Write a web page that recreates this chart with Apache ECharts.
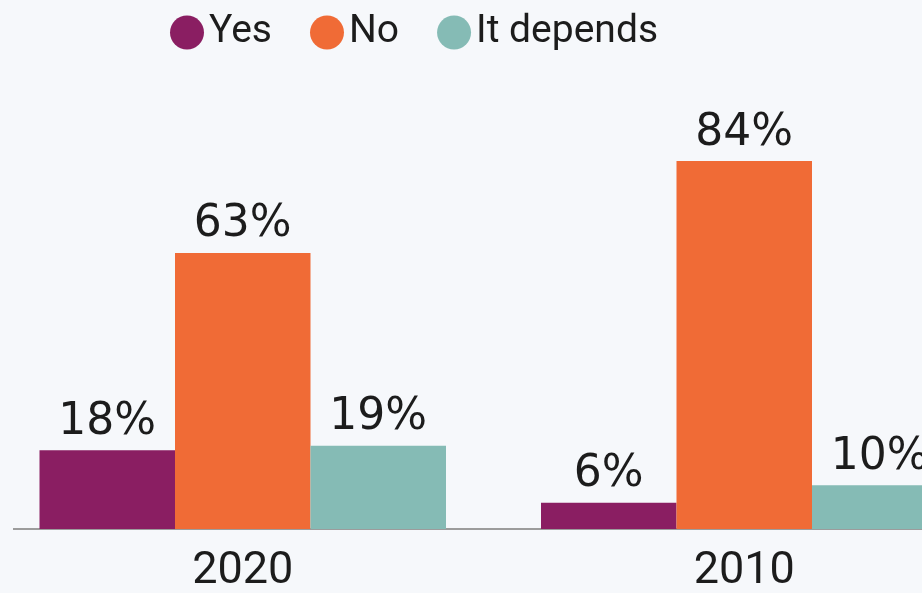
<!DOCTYPE html>
<html>
<head>
<meta charset="utf-8">
<script src="https://cdn.jsdelivr.net/npm/echarts@6/dist/echarts.min.js"></script>
<style>
  html, body { margin: 0; padding: 0; background: #f6f8fb; }
  #chart { width: 922px; height: 593px; }
</style>
</head>
<body>
<div id="chart"></div>
<script>
// Survey answers by year (percent of respondents)
const years = ['2020', '2010'];
const seriesNames = ['Yes', 'No', 'It depends'];
const yesValues = [18, 6];
const noValues = [63, 84];
const dependsValues = [19, 10];

const colors = ['#8a1e62', '#f06b36', '#85bbb5'];
const labelFont = 'DejaVu Sans, Noto Sans, sans-serif';
const textFont = 'Roboto, Noto Sans, sans-serif';

const chart = echarts.init(document.getElementById('chart'), null, { renderer: 'canvas' });

function barSeries(name, data, color) {
  return {
    name: name,
    type: 'bar',
    data: data,
    barWidth: 135.5,
    barGap: '0%',
    itemStyle: { color: color },
    label: {
      show: true,
      position: 'top',
      distance: 6,
      formatter: '{c}%',
      fontFamily: labelFont,
      fontSize: 44,
      color: '#1c1c1c'
    }
  };
}

chart.setOption({
  backgroundColor: '#f6f8fb',
  animation: false,
  color: colors,
  legend: {
    left: 165,
    top: 8,
    icon: 'circle',
    itemWidth: 34,
    itemHeight: 34,
    itemGap: 38,
    data: seriesNames,
    textStyle: {
      fontFamily: textFont,
      fontSize: 39,
      color: '#1c1c1c'
    }
  },
  // the plot runs past the right edge, so the grid is not clamped to the canvas
  grid: { left: -8, width: 1003, top: 91, bottom: 64, outerBoundsMode: 'none', containLabel: false },
  xAxis: {
    type: 'category',
    data: years,
    axisLine: { show: false },
    axisTick: { show: false },
    axisLabel: {
      margin: 20,
      fontFamily: textFont,
      fontSize: 45,
      color: '#1c1c1c'
    }
  },
  yAxis: {
    type: 'value',
    min: 0,
    max: 100,
    show: false,
    splitLine: { show: false }
  },
  series: [
    barSeries(seriesNames[0], yesValues, colors[0]),
    barSeries(seriesNames[1], noValues, colors[1]),
    barSeries(seriesNames[2], dependsValues, colors[2])
  ]
});

// Baseline rule drawn at the zero value of the axis
const baseY = chart.convertToPixel({ yAxisIndex: 0 }, 0);
chart.setOption({
  graphic: [{
    type: 'line',
    shape: { x1: 13, y1: baseY, x2: 922, y2: baseY },
    style: { stroke: '#9c9c9c', lineWidth: 2 },
    z: 0
  }]
});
</script>
</body>
</html>
